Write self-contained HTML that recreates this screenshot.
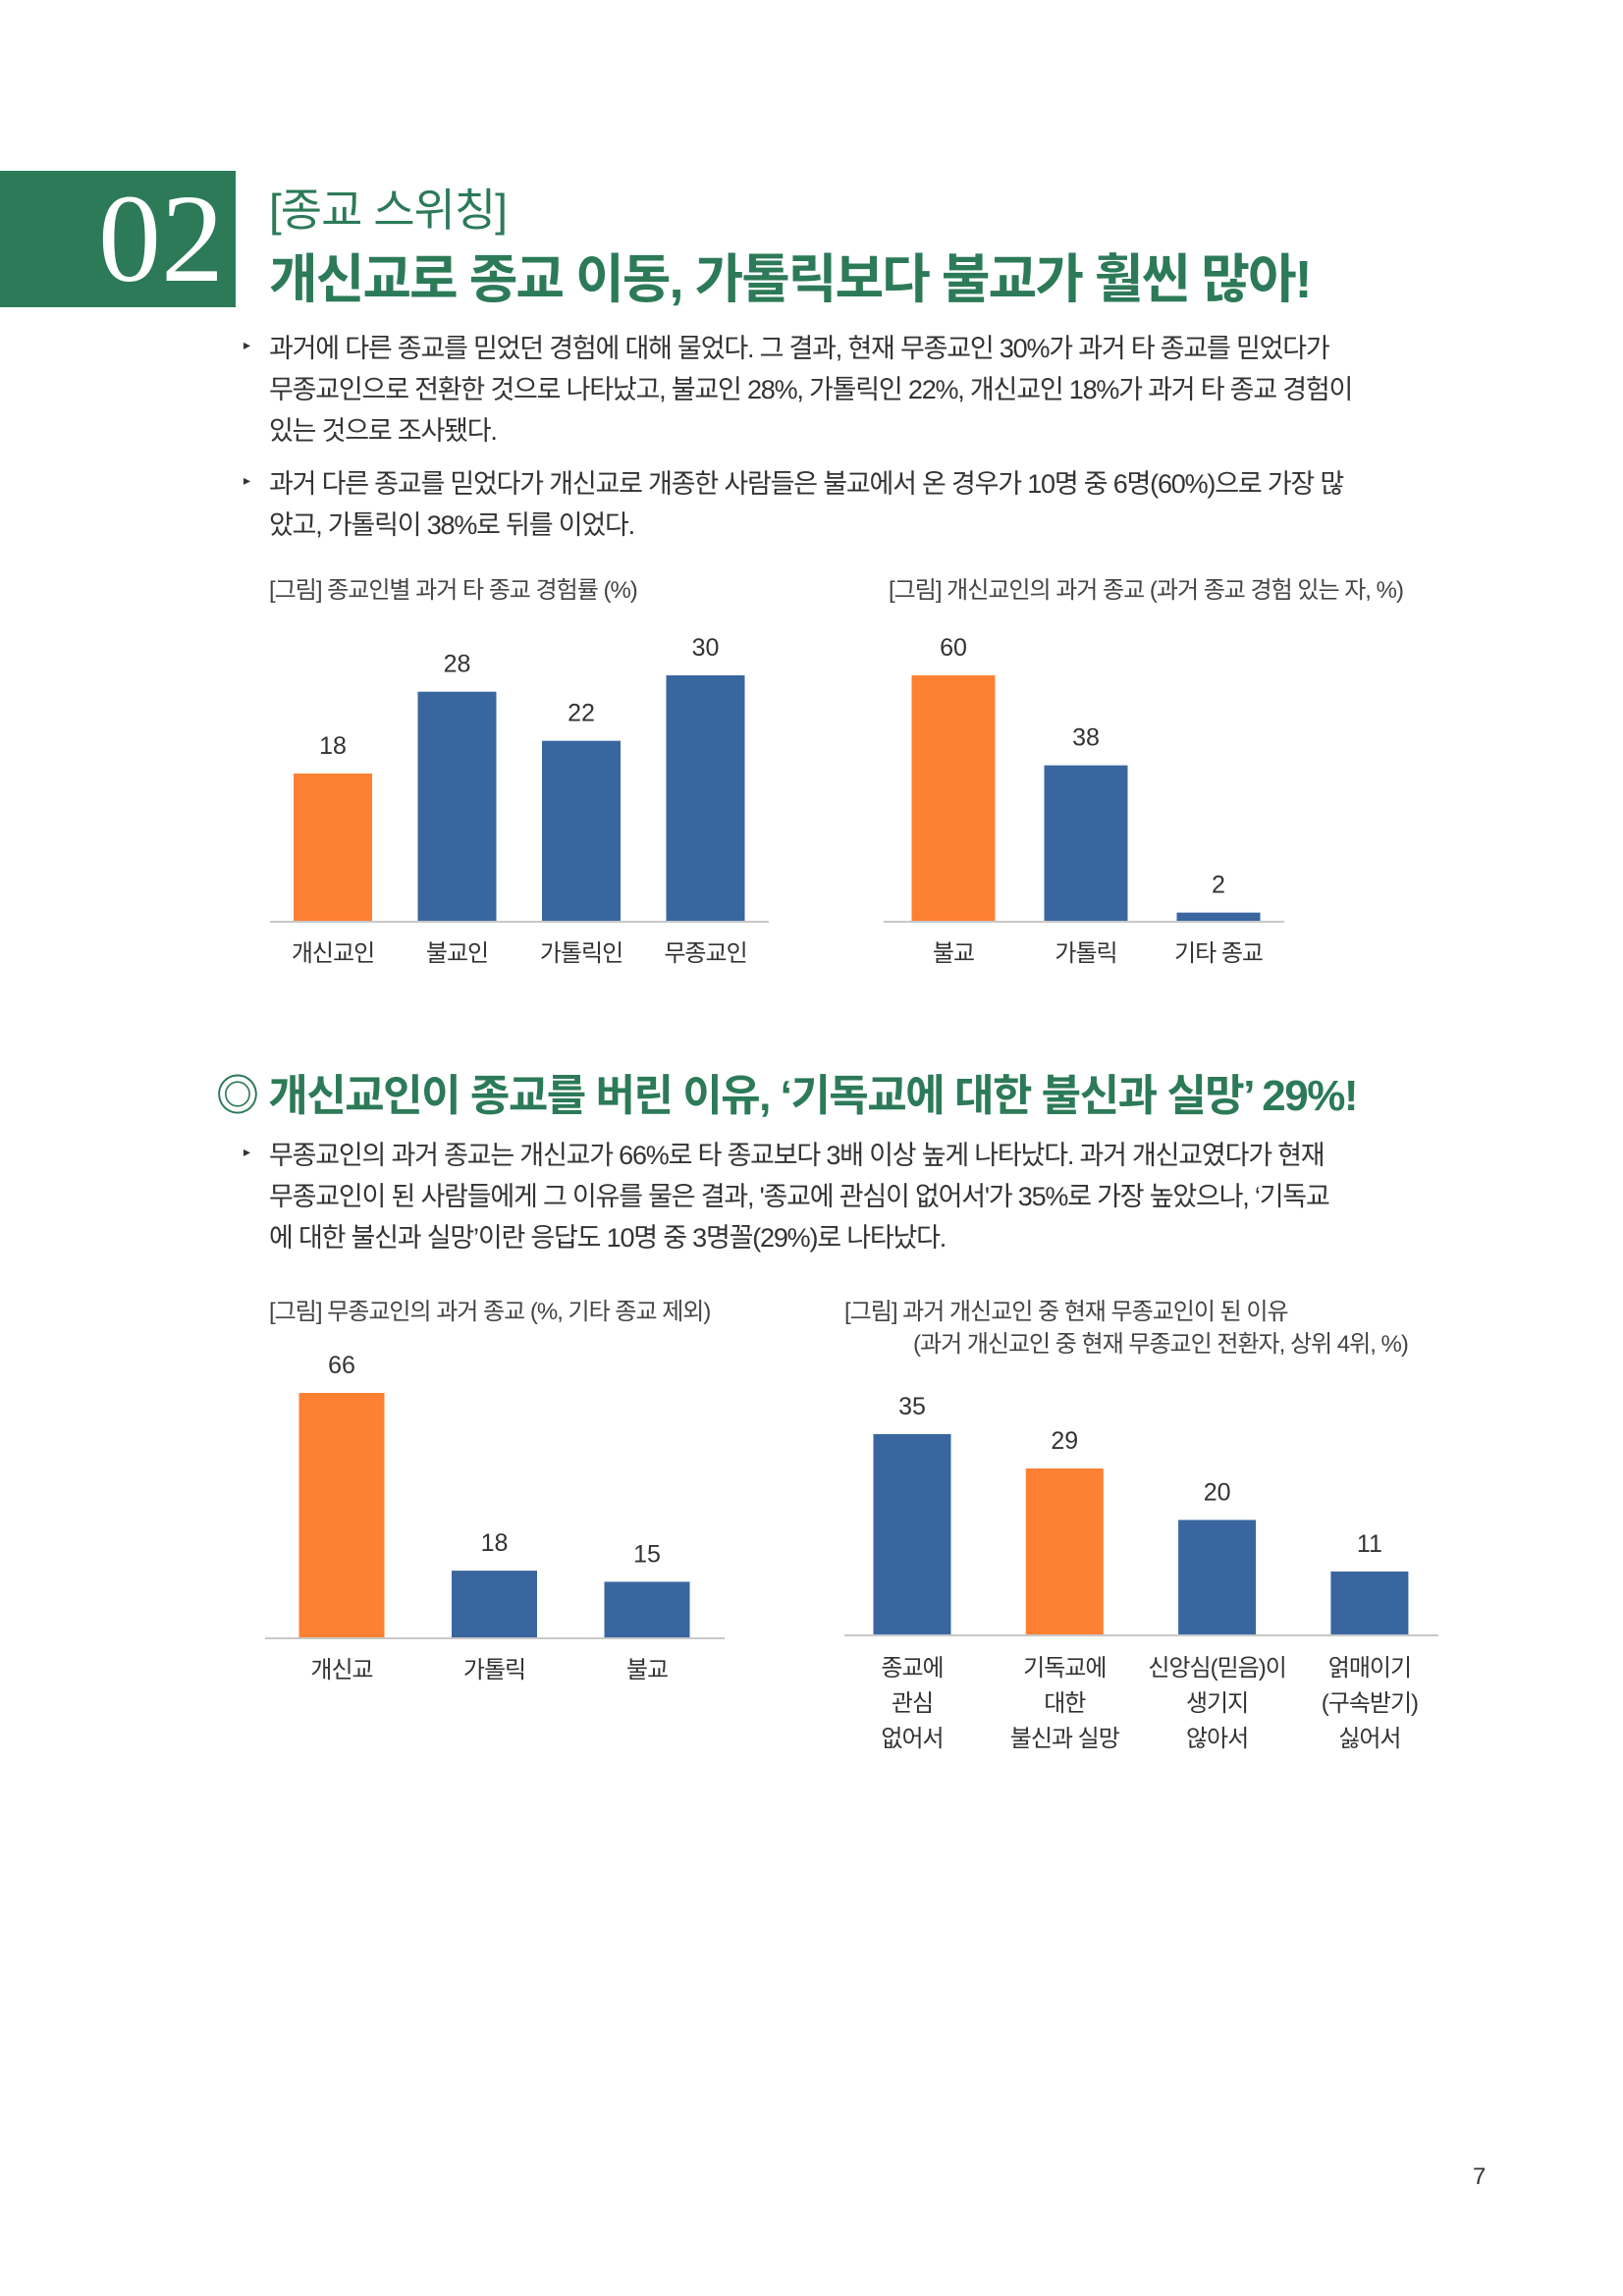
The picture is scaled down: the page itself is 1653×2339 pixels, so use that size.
<!DOCTYPE html>
<html><head><meta charset="utf-8">
<style>
body{margin:0;background:#fff;}
#page{position:relative;width:1653px;height:2339px;overflow:hidden;font-family:"Liberation Sans","Noto Sans CJK KR",sans-serif;color:#333;}
.abs{position:absolute;white-space:nowrap;}
.p{font-size:27px;letter-spacing:-1.2px;color:#333;}
.bul{position:absolute;font-size:14px;color:#333;}
.cap{font-size:24px;letter-spacing:-1px;color:#444;}
svg text{font-family:"Liberation Sans","Noto Sans CJK KR",sans-serif;}
</style></head><body>
<div id="page">
<div class="abs" style="left:0;top:174px;width:240px;height:139px;background:#2c7a58;"></div>
<div class="abs" style="left:100px;top:168px;font-family:'Liberation Serif',serif;font-size:128px;color:#fff;line-height:150px;">02</div>
<div class="abs" style="left:274px;top:178px;font-size:46px;color:#2c7a58;letter-spacing:-1px;">[종교 스위칭]</div>
<div class="abs" style="left:274px;top:240px;font-size:54px;font-weight:bold;color:#2c7a58;letter-spacing:-2px;">개신교로 종교 이동, 가톨릭보다 불교가 훨씬 많아!</div>

<div class="bul" style="left:248px;top:343px;">▸</div>
<div class="abs p" style="left:274px;top:333px;">과거에 다른 종교를 믿었던 경험에 대해 물었다. 그 결과, 현재 무종교인 30%가 과거 타 종교를 믿었다가</div>
<div class="abs p" style="left:274px;top:375px;">무종교인으로 전환한 것으로 나타났고, 불교인 28%, 가톨릭인 22%, 개신교인 18%가 과거 타 종교 경험이</div>
<div class="abs p" style="left:274px;top:417px;">있는 것으로 조사됐다.</div>
<div class="bul" style="left:248px;top:481px;">▸</div>
<div class="abs p" style="left:274px;top:471px;">과거 다른 종교를 믿었다가 개신교로 개종한 사람들은 불교에서 온 경우가 10명 중 6명(60%)으로 가장 많</div>
<div class="abs p" style="left:274px;top:513px;">았고, 가톨릭이 38%로 뒤를 이었다.</div>

<div class="abs cap" style="left:274px;top:581px;">[그림] 종교인별 과거 타 종교 경험률 (%)</div>
<div class="abs cap" style="left:905px;top:581px;">[그림] 개신교인의 과거 종교 (과거 종교 경험 있는 자, %)</div>

<div class="abs" style="left:220px;top:1080px;font-size:44px;font-weight:bold;color:#2c7a58;letter-spacing:-1.5px;">◎ 개신교인이 종교를 버린 이유, ‘기독교에 대한 불신과 실망’ 29%!</div>
<div class="bul" style="left:248px;top:1165px;">▸</div>
<div class="abs p" style="left:274px;top:1155px;">무종교인의 과거 종교는 개신교가 66%로 타 종교보다 3배 이상 높게 나타났다. 과거 개신교였다가 현재</div>
<div class="abs p" style="left:274px;top:1197px;">무종교인이 된 사람들에게 그 이유를 물은 결과, '종교에 관심이 없어서'가 35%로 가장 높았으나, ‘기독교</div>
<div class="abs p" style="left:274px;top:1239px;">에 대한 불신과 실망’이란 응답도 10명 중 3명꼴(29%)로 나타났다.</div>

<div class="abs cap" style="left:274px;top:1316px;">[그림] 무종교인의 과거 종교 (%, 기타 종교 제외)</div>
<div class="abs cap" style="left:860px;top:1316px;">[그림] 과거 개신교인 중 현재 무종교인이 된 이유</div>
<div class="abs cap" style="left:930px;top:1349px;">(과거 개신교인 중 현재 무종교인 전환자, 상위 4위, %)</div>

<div class="abs" style="left:1500px;top:2204px;font-size:24px;color:#333;">7</div>

<svg id="charts" width="1653" height="2339" style="position:absolute;left:0;top:0;"></svg>
</div>
<script>
const c1Cats=["개신교인","불교인","가톨릭인","무종교인"];
const c1Vals=[18,28,22,30];
const c2Cats=["불교","가톨릭","기타 종교"];
const c2Vals=[60,38,2];
const c3Cats=["개신교","가톨릭","불교"];
const c3Vals=[66,18,15];
const c4Cats=[["종교에","관심","없어서"],["기독교에","대한","불신과 실망"],["신앙심(믿음)이","생기지","않아서"],["얽매이기","(구속받기)","싫어서"]];
const c4Vals=[35,29,20,11];
const ORANGE="#fd8033",BLUE="#3a66a0";
const svg=document.getElementById('charts');
const NS="http://www.w3.org/2000/svg";
function mk(t,a){const e=document.createElementNS(NS,t);for(const k in a)e.setAttribute(k,a[k]);svg.appendChild(e);return e;}
function chart(o){
  const yScale=v=>o.base-v*o.pxPer;
  const ax=mk('line',{x1:o.x0,x2:o.x1,y1:o.base+1,y2:o.base+1,stroke:'#c8c8c8','stroke-width':2});
  
  
  o.vals.forEach((v,i)=>{
    const cx=o.centers[i];
    const y=yScale(v);
    const r=mk('rect',{x:cx-o.bw/2,y:y,width:o.bw,height:o.base-y,fill:i===o.hi?ORANGE:BLUE});
    
    
    const t=mk('text',{x:cx,y:y-20,'text-anchor':'middle','font-size':25,fill:'#333'});
    t.textContent=v;
    
    
    const lines=Array.isArray(o.cats[i])?o.cats[i]:[o.cats[i]];
    lines.forEach((s,j)=>{
      const l=mk('text',{x:cx,y:o.base+o.labOff+j*36,'text-anchor':'middle','font-size':24,fill:'#333','letter-spacing':'-1'});
      l.textContent=s;
      
      
    });
  });
}
function centersFor(x0,step,n){const a=[];for(let i=0;i<n;i++)a.push(x0+i*step);return a;}
chart({name:'chart-1',cats:c1Cats,vals:c1Vals,base:938,pxPer:250/30,x0:275,x1:783,bw:80,centers:centersFor(339,126.5,4),hi:0,labOff:41});
chart({name:'chart-2',cats:c2Cats,vals:c2Vals,base:938,pxPer:250/60,x0:900,x1:1308,bw:85,centers:centersFor(971,135,3),hi:0,labOff:41});
chart({name:'chart-3',cats:c3Cats,vals:c3Vals,base:1668,pxPer:249/66,x0:270,x1:738,bw:87,centers:centersFor(348,155.5,3),hi:0,labOff:41});
chart({name:'chart-4',cats:c4Cats,vals:c4Vals,base:1665,pxPer:204/35,x0:860,x1:1465,bw:79,centers:centersFor(929,155.3,4),hi:1,labOff:42});
</script>
</body></html>
